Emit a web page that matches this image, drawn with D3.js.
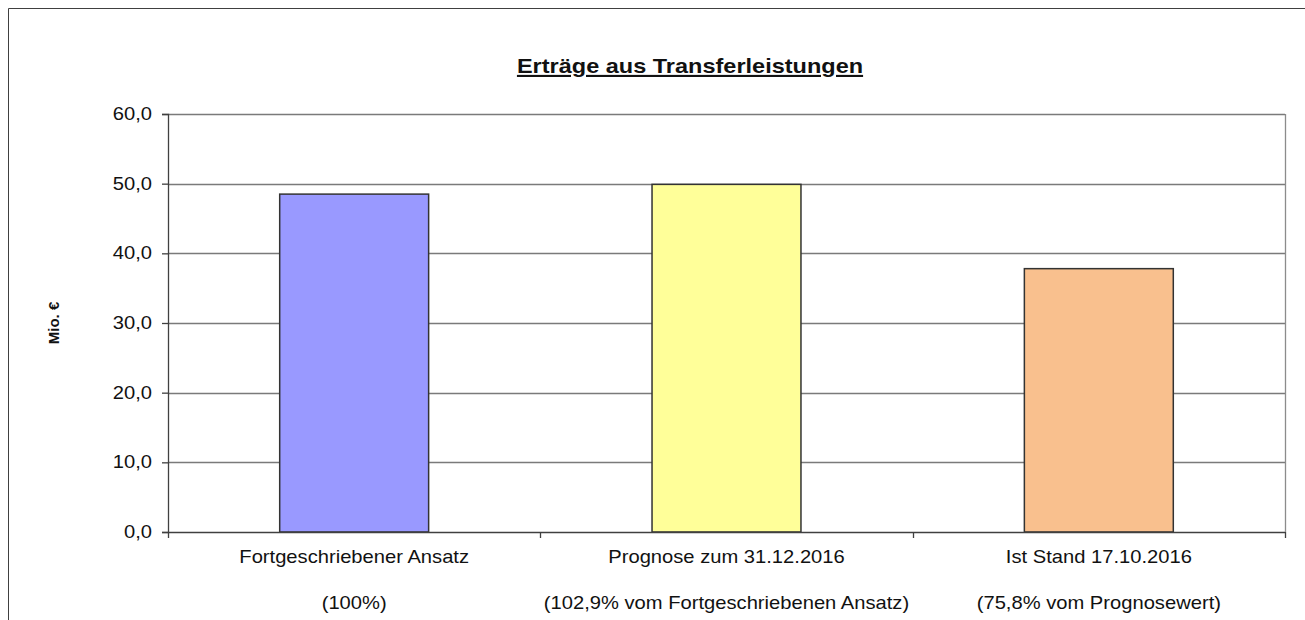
<!DOCTYPE html>
<html>
<head>
<meta charset="utf-8">
<script src="https://cdn.jsdelivr.net/npm/d3@7"></script>
<style>
  body { margin: 0; background: #fff; }
  svg { font-family: "Liberation Sans", Arial, sans-serif; }
</style>
</head>
<body>
<div id="chart"></div>
<script>
// Chart data
const categories = ["Fortgeschriebener Ansatz", "Prognose zum 31.12.2016", "Ist Stand 17.10.2016"];
const subLabels = ["(100%)", "(102,9% vom Fortgeschriebenen Ansatz)", "(75,8% vom Prognosewert)"];
const values = [48.5, 49.9, 37.8];
const barColors = ["#9999ff", "#ffff99", "#f9c08e"];
const yTicks = [0, 10, 20, 30, 40, 50, 60];

const W = 1305, H = 620;
const plot = { left: 168, top: 114, right: 1285, bottom: 532 };
const stretch = 1.12; // the source text is a bit wider than the font

const svg = d3.select("#chart").append("svg")
    .attr("width", W)
    .attr("height", H);

// outer frame (runs off the page right/bottom)
svg.append("path")
    .attr("d", `M8.5,${H} V8.5 H${W}`)
    .attr("fill", "none")
    .attr("stroke", "#404040")
    .attr("stroke-width", 1);

const x = d3.scaleBand()
    .domain(categories)
    .range([plot.left, plot.right])
    .paddingInner(0.6)
    .paddingOuter(0.3);

const y = d3.scaleLinear()
    .domain([0, 60])
    .range([plot.bottom, plot.top]);

const fmt = d => d3.format(".1f")(d).replace(".", ",");

// gridlines
svg.append("g")
    .selectAll("line")
    .data(yTicks.filter(d => d > 0))
    .join("line")
    .attr("x1", plot.left)
    .attr("x2", plot.right)
    .attr("y1", d => Math.round(y(d)) + 0.5)
    .attr("y2", d => Math.round(y(d)) + 0.5)
    .attr("stroke", "#7a7a7a")
    .attr("stroke-width", 1.4);

// right edge of plot area
svg.append("line")
    .attr("x1", plot.right + 0.5).attr("x2", plot.right + 0.5)
    .attr("y1", plot.top).attr("y2", plot.bottom)
    .attr("stroke", "#8c8c8c")
    .attr("stroke-width", 1.3);

// bars
svg.append("g")
    .selectAll("rect")
    .data(values)
    .join("rect")
    .attr("x", (d, i) => x(categories[i]))
    .attr("y", d => y(d))
    .attr("width", x.bandwidth())
    .attr("height", d => y(0) - y(d))
    .attr("fill", (d, i) => barColors[i])
    .attr("stroke", "#333")
    .attr("stroke-width", 1.5);

// y axis (line + ticks), labels drawn separately so they can be stretched
const yAxis = svg.append("g")
    .attr("transform", `translate(${plot.left},0)`)
    .call(d3.axisLeft(y).tickValues(yTicks).tickSize(6).tickFormat(""));
yAxis.select(".domain").attr("stroke", "#404040").attr("stroke-width", 1.3);
yAxis.selectAll(".tick line").attr("stroke", "#404040").attr("stroke-width", 1.3);

svg.append("g")
    .selectAll("text")
    .data(yTicks)
    .join("text")
    .attr("transform", d => `translate(152,${y(d)}) scale(${stretch},1)`)
    .attr("dy", "0.34em")
    .attr("text-anchor", "end")
    .attr("font-size", 18)
    .attr("fill", "#111")
    .text(fmt);

// x axis line with ticks at category boundaries
const xBounds = d3.range(categories.length + 1).map(i => plot.left + i * x.step());
svg.append("line")
    .attr("x1", plot.left).attr("x2", plot.right)
    .attr("y1", plot.bottom + 0.5).attr("y2", plot.bottom + 0.5)
    .attr("stroke", "#404040")
    .attr("stroke-width", 1.3);
svg.append("g")
    .selectAll("line")
    .data(xBounds)
    .join("line")
    .attr("x1", d => Math.round(d) + 0.5)
    .attr("x2", d => Math.round(d) + 0.5)
    .attr("y1", plot.bottom)
    .attr("y2", plot.bottom + 6)
    .attr("stroke", "#404040")
    .attr("stroke-width", 1.3);

// category labels
const labels = svg.append("g")
    .selectAll("g")
    .data(categories)
    .join("g")
    .attr("transform", d => `translate(${x(d) + x.bandwidth() / 2},0) scale(${stretch},1)`);
labels.append("text")
    .attr("y", 563)
    .attr("text-anchor", "middle")
    .attr("font-size", 18)
    .attr("fill", "#111")
    .text(d => d);
labels.append("text")
    .attr("y", 609)
    .attr("text-anchor", "middle")
    .attr("font-size", 18)
    .attr("fill", "#111")
    .text((d, i) => subLabels[i]);

// y axis title
svg.append("text")
    .attr("transform", `translate(59,${(plot.top + plot.bottom) / 2}) rotate(-90)`)
    .attr("text-anchor", "middle")
    .attr("font-size", 15)
    .attr("font-weight", "bold")
    .attr("fill", "#111")
    .text("Mio. €");

// title
svg.append("text")
    .attr("transform", `translate(690,73) scale(${stretch},1)`)
    .attr("text-anchor", "middle")
    .attr("font-size", 21)
    .attr("font-weight", "bold")
    .attr("text-decoration", "underline")
    .attr("fill", "#111")
    .text("Erträge aus Transferleistungen");
</script>
</body>
</html>
